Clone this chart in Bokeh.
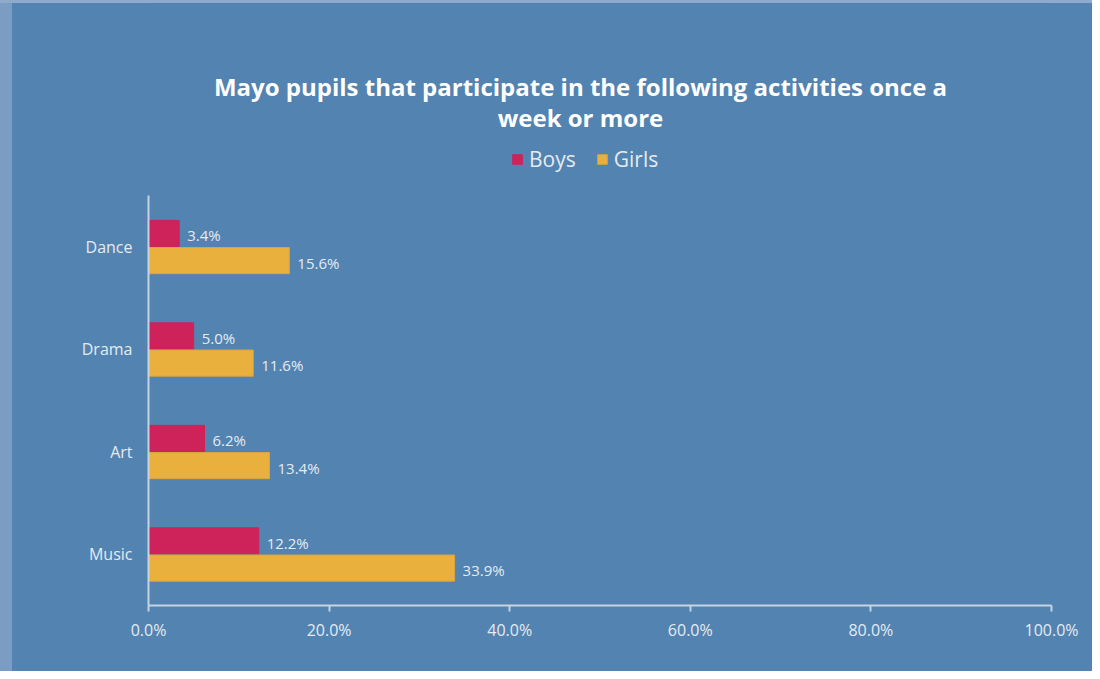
from bokeh.plotting import figure
from bokeh.models import (ColumnDataSource, Range1d, FixedTicker, Label,
                          PrintfTickFormatter, Legend, LegendItem, LabelSet)
from bokeh.core.properties import value
from bokeh.transform import dodge
from bokeh.embed import file_html
from bokeh.resources import INLINE

categories = ["Dance", "Drama", "Art", "Music"]
boys = [3.4, 5.0, 6.2, 12.2]
girls = [15.6, 11.6, 13.4, 33.9]
x_ticks = [0, 20, 40, 60, 80, 100]
title_lines = ["Mayo pupils that participate in the following activities once a",
               "week or more"]

BG = "#5383b0"
BOYS_C = "#cd235a"
GIRLS_C = "#e9b03d"
AXIS_C = "#c5d3e3"
TEXT_C = "#e4ebf3"
FONT = "Open Sans"

n = len(categories)
pos = [n - i for i in range(n)]          # Dance on top, Music at bottom
band_px = 410 / n                        # pixel height of one category band
extra_top = 192 / band_px                # room above the bands for title and legend

src = ColumnDataSource(data=dict(
    cat=categories, pos=pos, boys=boys, girls=girls,
    boys_lbl=["%.1f%%" % v for v in boys],
    girls_lbl=["%.1f%%" % v for v in girls],
))

p = figure(width=1092, height=671, output_backend="svg", toolbar_location=None,
           y_range=Range1d(0.5, n + 0.5 + extra_top),
           x_range=Range1d(0, 100),
           min_border_left=148, min_border_right=41, min_border_top=3,
           min_border_bottom=66,
           outline_line_color=None, background_fill_color=BG,
           border_fill_color=None)
p.styles = {
    "background-color": BG,
    "background-image": ("linear-gradient(to bottom, #8eabcd 0px, #8eabcd 3px, transparent 3px), "
                         "linear-gradient(to right, #7b9dc4 0px, #7b9dc4 12px, transparent 12px)"),
}
p.xgrid.grid_line_color = None
p.ygrid.grid_line_color = None

rb = p.hbar(y=dodge("pos", 0.13), right="boys", left=0, height=0.255,
            source=src, fill_color=BOYS_C, line_color=BOYS_C)
rg = p.hbar(y=dodge("pos", -0.135), right="girls", left=0, height=0.255,
            source=src, fill_color=GIRLS_C, line_color="#d9a440")

lb = LabelSet(x="boys", y=dodge("pos", 0.11), text="boys_lbl", source=src,
              x_offset=8, text_baseline="middle", text_font=value(FONT),
              text_font_size=value("15px"), text_color=TEXT_C)
lg = LabelSet(x="girls", y=dodge("pos", -0.155), text="girls_lbl", source=src,
              x_offset=8, text_baseline="middle", text_font=value(FONT),
              text_font_size=value("15px"), text_color=TEXT_C)
p.add_layout(lb)
p.add_layout(lg)

# axes
p.xaxis.ticker = FixedTicker(ticks=x_ticks)
p.xaxis.formatter = PrintfTickFormatter(format="%.1f%%")
p.xaxis.axis_line_color = AXIS_C
p.xaxis.axis_line_width = 2
p.xaxis.major_tick_line_color = AXIS_C
p.xaxis.major_tick_line_width = 2
p.xaxis.major_tick_out = 6
p.xaxis.major_tick_in = 0
p.xaxis.minor_tick_line_color = None
p.xaxis.major_label_standoff = 7
p.xaxis.major_label_text_font = FONT
p.xaxis.major_label_text_font_size = "16px"
p.xaxis.major_label_text_color = TEXT_C

p.yaxis.ticker = FixedTicker(ticks=pos)
p.yaxis.bounds = (0.5, n + 0.5)
p.yaxis.major_label_overrides = {pv: c for pv, c in zip(pos, categories)}
p.yaxis.axis_line_color = AXIS_C
p.yaxis.axis_line_width = 2
p.yaxis.major_tick_line_color = None
p.yaxis.major_tick_out = 0
p.yaxis.major_tick_in = 0
p.yaxis.minor_tick_line_color = None
p.yaxis.major_label_standoff = 16
p.yaxis.major_label_text_font = FONT
p.yaxis.major_label_text_font_size = "16px"
p.yaxis.major_label_text_color = TEXT_C

legend = Legend(items=[LegendItem(label="Boys", renderers=[rb]),
                       LegendItem(label="Girls", renderers=[rg])],
                orientation="horizontal", location=(363, 432),
                background_fill_alpha=0, border_line_color=None,
                label_text_font=FONT, label_text_font_size="21px", label_text_color=TEXT_C,
                glyph_width=12, glyph_height=12, label_standoff=6, spacing=20,
                padding=0, margin=0)
p.add_layout(legend)

for txt, yy in zip(title_lines, [519, 488]):
    p.add_layout(Label(x=432, y=yy, x_units="screen", y_units="screen", text=txt,
                       text_align="center", text_baseline="middle", text_font=FONT,
                       text_font_size="24px", text_font_style="bold",
                       text_color="#ffffff"))

open("out.html", "w").write(file_html(p, INLINE))
